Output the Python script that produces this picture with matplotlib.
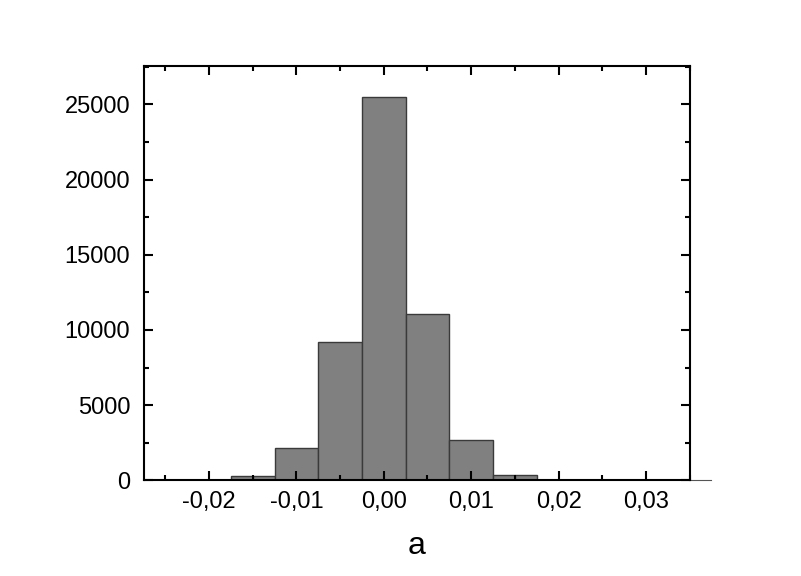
import numpy as np
import matplotlib
matplotlib.use('Agg')
import matplotlib.pyplot as plt
from matplotlib.ticker import MultipleLocator, FuncFormatter

plt.rcParams['font.family'] = ['Liberation Sans', 'DejaVu Sans']

# histogram bin edges and counts
bin_edges = [-0.0175, -0.015, -0.0125, -0.0075, -0.0025, 0.0025, 0.0075, 0.0125, 0.015, 0.0175]
counts = [270, 270, 2130, 9200, 25500, 11060, 2670, 340, 340]
x_label = 'a'

edges = np.array(bin_edges)
widths = np.diff(edges)

fig = plt.figure(figsize=(8.01, 5.76), dpi=100)
ax = fig.add_axes([0.1798, 0.1661, 0.6816, 0.7193])

ax.bar(edges[:-1], counts, width=widths, align='edge',
       color='#808080', edgecolor='#3a3a3a', linewidth=1.0)

ax.set_xlim(-0.02743, 0.03503)
ax.set_ylim(0, 27550)

ax.xaxis.set_major_locator(MultipleLocator(0.01))
ax.xaxis.set_minor_locator(MultipleLocator(0.005))
ax.yaxis.set_major_locator(MultipleLocator(5000))
ax.yaxis.set_minor_locator(MultipleLocator(2500))

def fmt_x(v, pos):
    if abs(v) < 1e-9:
        v = 0.0
    return f'{v:.2f}'.replace('.', ',')

ax.xaxis.set_major_formatter(FuncFormatter(fmt_x))
ax.yaxis.set_major_formatter(FuncFormatter(lambda v, p: f'{int(round(v))}'))

ax.tick_params(which='both', direction='in', top=True, right=True,
               width=1.5, labelsize=17, colors='black')
ax.tick_params(which='major', length=6.5)
ax.tick_params(which='minor', length=3.5)
ax.tick_params(axis='x', which='major', pad=8)
ax.tick_params(axis='y', which='major', pad=10)

for s in ax.spines.values():
    s.set_linewidth(1.5)

# thin baseline running past the right frame
ax.plot([1.0, 1.039], [0, 0], transform=ax.transAxes, clip_on=False,
        color='#555555', linewidth=0.8)

ax.set_xlabel(x_label, fontsize=23, labelpad=13)

fig.savefig('out.png', dpi=100)
